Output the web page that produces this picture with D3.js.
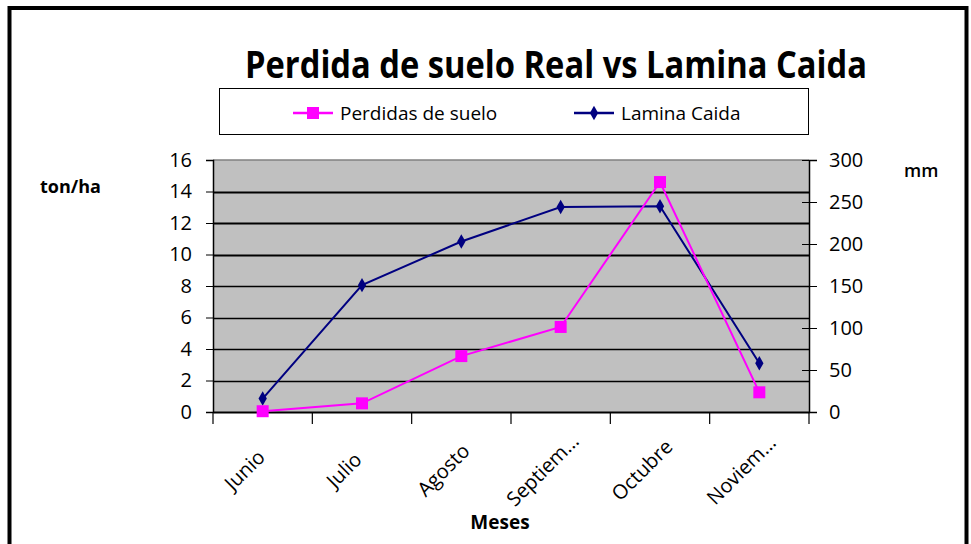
<!DOCTYPE html>
<html>
<head>
<meta charset="utf-8">
<script src="https://cdn.jsdelivr.net/npm/d3@7"></script>
<style>
  body { margin: 0; background: #fff; }
  svg { display: block; }
  text { font-family: "Open Sans", "DejaVu Sans", sans-serif; }
</style>
</head>
<body>
<svg id="viz" width="971" height="544"></svg>
<script>
// data
const months = ["Junio", "Julio", "Agosto", "Septiem...", "Octubre", "Noviem..."];
const perdidas = [0.05, 0.55, 3.55, 5.4, 14.6, 1.25];  // ton/ha, left axis
const lamina = [16, 151, 203, 244, 245, 58];           // mm, right axis
const leftTicks = [0, 2, 4, 6, 8, 10, 12, 14, 16];
const rightTicks = [0, 50, 100, 150, 200, 250, 300];

const pink = "#ff00ff";
const navy = "#000080";

var svg = d3.select("#viz");
var margin = { left: 213, right: 162, top: 160, bottom: 132 };
var width = +svg.attr("width");
var height = +svg.attr("height");
var plotW = width - margin.left - margin.right;
var plotH = height - margin.top - margin.bottom;

// outer frame
svg.append("rect")
    .attr("x", 9.5).attr("y", 8)
    .attr("width", 957).attr("height", 560)
    .attr("fill", "none")
    .attr("stroke", "#000")
    .attr("stroke-width", 4);

// title
svg.append("text")
    .attr("x", 245).attr("y", 78)
    .attr("font-family", "'DejaVu Sans Condensed', 'DejaVu Sans', sans-serif")
    .attr("font-size", 37)
    .attr("font-weight", "bold")
    .attr("textLength", 622)
    .attr("lengthAdjust", "spacingAndGlyphs")
    .text("Perdida de suelo Real vs Lamina Caida");

var x = d3.scaleBand().domain(months).range([0, plotW]);
var yL = d3.scaleLinear().domain([0, 16]).range([plotH, 0]);
var yR = d3.scaleLinear().domain([0, 300]).range([plotH, 0]);

var g = svg.append("g").attr("transform", `translate(${margin.left},${margin.top})`);

// plot background
g.append("rect")
    .attr("width", plotW).attr("height", plotH)
    .attr("fill", "#c0c0c0");

g.append("line")
    .attr("x1", 0).attr("x2", plotW)
    .attr("y1", 0).attr("y2", 0)
    .attr("stroke", "#808080")
    .attr("stroke-width", 1.5);

// gridlines
g.append("g")
    .selectAll("line")
    .data(leftTicks.slice(1, -1))
    .enter()
    .append("line")
    .attr("x1", 0).attr("x2", plotW)
    .attr("y1", d => Math.round(yL(d)) + 0.5)
    .attr("y2", d => Math.round(yL(d)) + 0.5)
    .attr("stroke", "#000")
    .attr("stroke-width", d => d >= 10 ? 2 : 1.3);

// left axis
var leftAxis = g.append("g")
    .call(d3.axisLeft(yL).tickValues(leftTicks).tickSize(7).tickPadding(14));
leftAxis.select(".domain").attr("stroke-width", 1.5);
leftAxis.selectAll("text").attr("font-size", 20).attr("fill", "#000");

// right axis
var rightAxis = g.append("g")
    .attr("transform", `translate(${plotW},0)`)
    .call(d3.axisRight(yR).tickValues(rightTicks).tickSize(8).tickPadding(12));
rightAxis.select(".domain").attr("stroke-width", 1.5);
rightAxis.selectAll(".tick line").attr("x1", -7);
rightAxis.selectAll("text").attr("font-size", 20).attr("fill", "#000");

// bottom axis
var bottomAxis = g.append("g")
    .attr("transform", `translate(0,${plotH})`)
    .call(d3.axisBottom(x).tickSize(0).tickFormat(""));
bottomAxis.select(".domain").attr("stroke-width", 2);
bottomAxis.selectAll(".tick").remove();

bottomAxis.selectAll("line.cat")
    .data(months.concat(["end"]))
    .enter()
    .append("line")
    .attr("class", "cat")
    .attr("x1", (d, i) => i * x.bandwidth())
    .attr("x2", (d, i) => i * x.bandwidth())
    .attr("y1", 0).attr("y2", 12)
    .attr("stroke", "#000")
    .attr("stroke-width", 1.2);

bottomAxis.selectAll("text.cat")
    .data(months)
    .enter()
    .append("text")
    .attr("class", "cat")
    .attr("text-anchor", "middle")
    .attr("font-size", 20)
    .attr("fill", "#000")
    .attr("transform", d => `translate(${x(d) + x.bandwidth() / 2 - 13},${63}) rotate(-45)`)
    .text(d => d);

// axis titles
svg.append("text")
    .attr("x", 40).attr("y", 193)
    .attr("font-size", 18).attr("font-weight", "bold")
    .text("ton/ha");

svg.append("text")
    .attr("x", 904).attr("y", 177)
    .attr("font-size", 18).attr("font-weight", 600)
    .text("mm");

svg.append("text")
    .attr("x", 500).attr("y", 529)
    .attr("text-anchor", "middle")
    .attr("font-size", 19).attr("font-weight", "bold")
    .text("Meses");

// series
var cx = d => x(d) + x.bandwidth() / 2;

var linePerd = d3.line()
    .x((d, i) => cx(months[i]))
    .y(d => yL(d));
var lineLam = d3.line()
    .x((d, i) => cx(months[i]))
    .y(d => yR(d));

g.append("path")
    .datum(lamina)
    .attr("d", lineLam)
    .attr("fill", "none")
    .attr("stroke", navy)
    .attr("stroke-width", 2);

g.append("path")
    .datum(perdidas)
    .attr("d", linePerd)
    .attr("fill", "none")
    .attr("stroke", pink)
    .attr("stroke-width", 2);

var diamond = d3.symbol().type(d3.symbolDiamond).size(60);
var square = d3.symbol().type(d3.symbolSquare).size(144);

g.append("g")
    .selectAll("path")
    .data(lamina)
    .enter()
    .append("path")
    .attr("d", diamond)
    .attr("transform", (d, i) => `translate(${cx(months[i])},${yR(d)})`)
    .attr("fill", navy);

g.append("g")
    .selectAll("path")
    .data(perdidas)
    .enter()
    .append("path")
    .attr("d", square)
    .attr("transform", (d, i) => `translate(${cx(months[i])},${yL(d)})`)
    .attr("fill", pink);

// legend
var legend = svg.append("g").attr("id", "legend");
legend.append("rect")
    .attr("x", 219.5).attr("y", 88.5)
    .attr("width", 589).attr("height", 46)
    .attr("fill", "#fff")
    .attr("stroke", "#000")
    .attr("stroke-width", 1);

const legendItems = [
    { name: "Perdidas de suelo", color: pink, sym: square, x: 293 },
    { name: "Lamina Caida", color: navy, sym: diamond, x: 574 }
];
legendItems.forEach(it => {
    legend.append("line")
        .attr("x1", it.x).attr("x2", it.x + 40)
        .attr("y1", 113).attr("y2", 113)
        .attr("stroke", it.color)
        .attr("stroke-width", 2.5);
    legend.append("path")
        .attr("d", it.sym)
        .attr("transform", `translate(${it.x + 20},113)`)
        .attr("fill", it.color);
    legend.append("text")
        .attr("x", it.x + 47).attr("y", 120)
        .attr("font-size", 19)
        .text(it.name);
});
</script>
</body>
</html>
